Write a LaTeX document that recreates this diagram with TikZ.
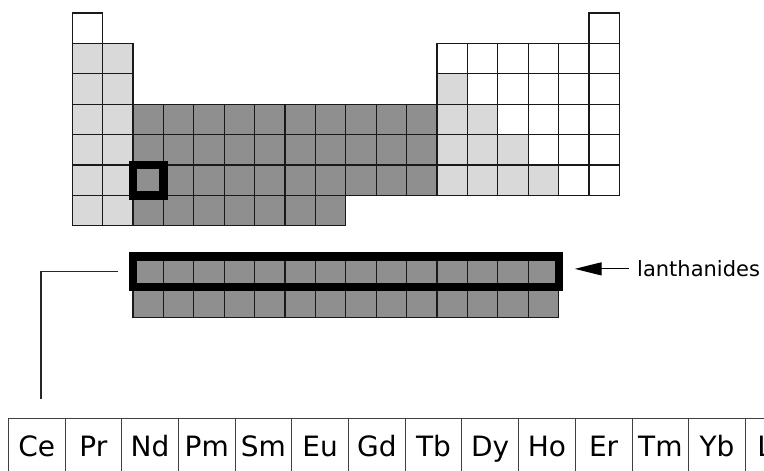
\documentclass[tikz,border=0pt]{standalone}
\usepackage{fontspec}
\setmainfont{DejaVu Sans}
\usepackage{xcolor}
\definecolor{lightgray1}{gray}{0.85}
\definecolor{darkgray1}{gray}{0.56}
\usepackage{tikz}
\usetikzlibrary{arrows.meta, positioning}

\begin{document}
\begin{tikzpicture}[x=1pt, y=-1pt,
	cell/.style={draw=black!90, line width=1.2pt},
	hlbox/.style={draw=black, line width=8.2pt, inner sep=0pt},
	elemline/.style={draw=black!75, line width=0.9pt},
	elem/.style={anchor=base, inner sep=0pt, font=\fontsize{28}{30}\selectfont}]

\def \xc{30.4} % cell size
\def \xl{72.2} % left of the table
\def \xt{13}   % top of the table

\newcommand{\xx}[1]{\xl - \xc + #1 * \xc}
\newcommand{\xy}[1]{\xt - \xc + #1 * \xc}

\useasboundingbox (0, 0) rectangle (764, 471);
\clip (0, 0) rectangle (764, 471);

% row / first column / last column / fill
\foreach \j/\a/\b/\f in {1/1/1/white, 1/18/18/white,
	2/1/2/lightgray1, 2/13/18/white,
	3/1/2/lightgray1, 3/13/13/lightgray1, 3/14/18/white,
	4/1/2/lightgray1, 4/3/12/darkgray1, 4/13/14/lightgray1, 4/15/18/white,
	5/1/2/lightgray1, 5/3/12/darkgray1, 5/13/15/lightgray1, 5/16/18/white,
	6/1/2/lightgray1, 6/3/12/darkgray1, 6/13/16/lightgray1, 6/17/18/white,
	7/1/2/lightgray1, 7/3/9/darkgray1} {
	\foreach \i in {\a, ..., \b} {
		\draw[cell, fill=\f] (\xx{\i}, \xy{\j}) rectangle ++(\xc, \xc); % table cell
	}
}

\foreach \j in {1, 2} {
	\foreach \i in {1, ..., 14} {
		\draw[cell, fill=darkgray1] (\xl + \xc + \i * \xc, 256.4 - \xc + \j * \xc) rectangle ++(\xc, \xc); % f-block cell
	}
}

\node[hlbox, minimum size=30.4pt] (la cell) at (\xx{3} + 0.5 * \xc, \xy{6} + 0.5 * \xc) {};
\node[hlbox, minimum width=425.6pt, minimum height=30.4pt] (lanthanide row) at (\xx{3} + 7 * \xc, 256.4 + 0.5 * \xc) {};

\node[anchor=base west, inner sep=0pt, font=\fontsize{21}{24}\selectfont] (lanthanides) at (637, 276.7) {lanthanides};
\draw[-{Triangle[length=27pt, width=13pt]}, line width=1.2pt] ([xshift=-8pt]lanthanides.west) -- ([xshift=12pt]lanthanide row.east |- lanthanides.west);

\coordinate (bracket end) at (41, 399.3);
\draw[line width=1.2pt, black!85] ([xshift=-10.8pt]lanthanide row.west) -| (bracket end);

\draw[elemline] (8.3, 418.3) -- (770, 418.3); % top border
\foreach \s [count=\k] in {Ce, Pr, Nd, Pm, Sm, Eu, Gd, Tb, Dy, Ho, Er, Tm, Yb, Lu} {
	\draw[elemline] ({8.3 + (\k - 1) * 56.7}, 418.3) -- ++(0, 60); % cell border
	\node[elem] (\s) at ({8.3 + (\k - 0.5) * 56.7}, 456) {\s};
}

\end{tikzpicture}
\end{document}
